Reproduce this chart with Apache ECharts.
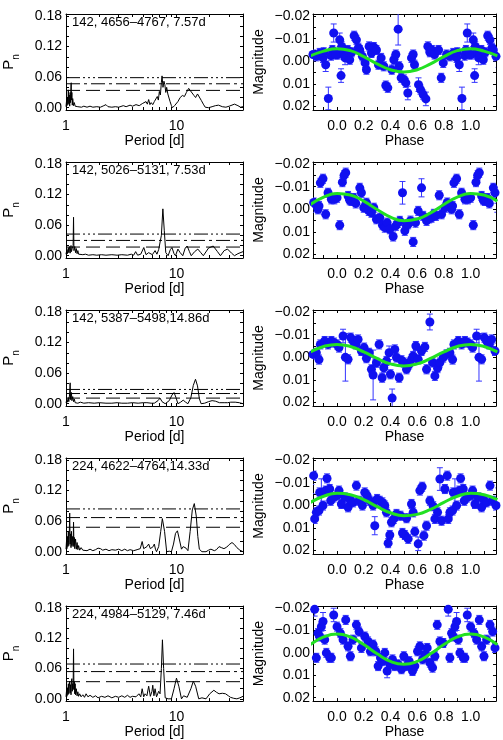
<!DOCTYPE html>
<html lang="en">
<head>
<meta charset="utf-8">
<title>Periodograms and phased light curves</title>
<script src="https://cdn.jsdelivr.net/npm/echarts@6/dist/echarts.min.js"></script>
<style>
  html, body { margin: 0; padding: 0; background: #fff; }
  #main { width: 503px; height: 740px; }
</style>
</head>
<body>
<div id="main"></div>
<script>
// ---- data ----
var panelLabels = ['142, 4656\u20134767, 7.57d', '142, 5026\u20135131, 7.53d', '142, 5387\u20135498,14.86d',
                   '224, 4622\u20134764,14.33d', '224, 4984\u20135129, 7.46d'];

// false-alarm levels (dash-dot-dot-dot, dash-dot, dash)
var levels = [
  [0.059, 0.047, 0.034],
  [0.0425, 0.030, 0.017],
  [0.028, 0.020, 0.011],
  [0.084, 0.067, 0.048],
  [0.069, 0.054, 0.034]
];

// periodograms: [period (d), power]
var power1 = [[1.0,0.002],[1.01,0.012],[1.02,0.004],[1.03,0.02],[1.04,0.006],[1.05,0.035],[1.06,0.008],[1.07,0.025],[1.08,0.003],
  [1.09,0.03],[1.10,0.01],[1.11,0.045],[1.115,0.049],[1.12,0.015],[1.13,0.03],[1.14,0.005],[1.15,0.018],[1.17,0.004],[1.19,0.01],
  [1.21,0.003],[1.24,0.006],[1.28,0.002],[1.32,0.004],[1.38,0.001],[1.45,0.003],[1.55,0.001],[1.65,0.003],[1.75,0.001],[1.9,0.002],
  [2.05,0.001],[2.2,0.004],[2.3,0.006],[2.4,0.002],[2.6,0.001],[2.8,0.002],[3.0,0.001],[3.3,0.004],[3.5,0.002],[3.8,0.005],[4.0,0.003],
  [4.3,0.006],[4.6,0.004],[4.9,0.008],[5.1,0.005],[5.3,0.012],[5.45,0.007],[5.6,0.016],[5.75,0.006],[5.9,0.01],[6.1,0.006],[6.3,0.012],
  [6.5,0.01],[6.7,0.022],[6.85,0.015],[7.0,0.032],[7.15,0.025],[7.3,0.05],[7.4,0.0625],[7.55,0.04],[7.7,0.052],[7.85,0.045],[8.0,0.03],
  [8.15,0.04],[8.35,0.027],[8.55,0.03],[8.75,0.012],[9.0,0.004],[9.2,0.0],[9.6,0.004],[10.3,0.012],[10.8,0.02],[11.3,0.024],[11.8,0.022],
  [12.3,0.03],[12.9,0.038],[13.4,0.033],[13.9,0.03],[14.4,0.024],[14.9,0.02],[15.5,0.027],[16.1,0.024],[16.8,0.014],[17.5,0.007],
  [18.2,0.001],[19.5,0.0],[21,0.002],[22.5,0.004],[24,0.005],[26,0.002],[28,0.001],[30,0.003],[33.5,0.007],[36,0.004],[38,0.001],[40,0.002]];

var power2 = [[1.0,0.003],[1.02,0.012],[1.03,0.004],[1.05,0.016],[1.06,0.006],[1.08,0.018],[1.09,0.005],[1.11,0.02],[1.12,0.008],
  [1.14,0.015],[1.16,0.02],[1.17,0.0755],[1.18,0.01],[1.2,0.018],[1.22,0.006],[1.24,0.014],[1.26,0.004],[1.28,0.01],[1.3,0.003],
  [1.35,0.005],[1.42,0.002],[1.5,0.003],[1.6,0.001],[1.75,0.002],[1.9,0.001],[2.1,0.002],[2.3,0.001],[2.6,0.002],[2.9,0.001],
  [3.2,0.002],[3.6,0.001],[3.9,0.003],[4.1,0.001],[4.27,0.008],[4.45,0.001],[4.75,0.003],[5.06,0.016],[5.3,0.002],[5.6,0.006],
  [5.8,0.008],[6.05,0.002],[6.4,0.01],[6.65,0.003],[6.9,0.012],[7.1,0.01],[7.3,0.04],[7.53,0.092],[7.75,0.05],[8.0,0.006],[8.4,0.0],
  [8.8,0.012],[9.1,0.016],[9.5,0.004],[9.8,0.0],[10.3,0.013],[10.8,0.006],[11.4,0.0],[12.0,0.015],[12.5,0.019],[13.1,0.008],[13.6,0.0],
  [14.6,0.008],[15.6,0.013],[16.6,0.006],[17.5,0.0],[19.5,0.015],[21.5,0.019],[23.5,0.008],[25,0.0],[27,0.01],[29,0.013],[31.5,0.005],
  [33.5,0.0],[36,0.004],[40,0.008]];

var power3 = [[1.0,0.002],[1.02,0.008],[1.03,0.003],[1.05,0.012],[1.06,0.004],[1.08,0.02],[1.09,0.041],[1.1,0.008],[1.11,0.016],
  [1.12,0.022],[1.13,0.006],[1.15,0.014],[1.17,0.004],[1.19,0.009],[1.21,0.002],[1.24,0.005],[1.28,0.001],[1.35,0.003],[1.45,0.001],
  [1.6,0.002],[1.8,0.001],[2.0,0.002],[2.3,0.001],[2.6,0.001],[2.9,0.002],[3.2,0.001],[3.6,0.001],[4.0,0.002],[4.5,0.001],[5.0,0.002],
  [5.2,0.004],[5.4,0.002],[5.6,0.005],[5.9,0.001],[6.3,0.001],[6.8,0.006],[7.1,0.011],[7.4,0.004],[7.9,0.0],[8.6,0.006],[9.1,0.017],
  [9.5,0.022],[9.9,0.012],[10.3,0.0],[10.9,0.003],[11.5,0.007],[12.1,0.003],[12.7,0.0],[13.5,0.012],[14.2,0.036],[14.86,0.048],
  [15.5,0.035],[16.1,0.01],[16.7,0.0],[18,0.001],[19.5,0.004],[21,0.006],[22.5,0.005],[24.5,0.002],[27,0.002],[29,0.002],[31,0.003],
  [34,0.003],[37,0.002],[40,0.0]];

var power4 = [[1.0,0.005],[1.01,0.02],[1.02,0.006],[1.03,0.03],[1.04,0.01],[1.05,0.04],[1.06,0.012],[1.07,0.03],[1.08,0.076],
  [1.09,0.015],[1.1,0.035],[1.11,0.008],[1.12,0.04],[1.13,0.012],[1.15,0.03],[1.16,0.01],[1.17,0.058],[1.18,0.012],[1.19,0.028],
  [1.2,0.006],[1.22,0.025],[1.24,0.005],[1.26,0.018],[1.28,0.004],[1.3,0.012],[1.33,0.003],[1.37,0.008],[1.42,0.003],[1.48,0.006],
  [1.55,0.002],[1.65,0.005],[1.75,0.002],[1.85,0.004],[1.95,0.007],[2.05,0.006],[2.15,0.003],[2.3,0.005],[2.45,0.002],[2.6,0.004],
  [2.8,0.003],[3.0,0.005],[3.2,0.002],[3.4,0.005],[3.6,0.002],[3.8,0.004],[4.1,0.002],[4.4,0.004],[4.7,0.006],[4.89,0.02],[5.05,0.006],
  [5.2,0.004],[5.4,0.01],[5.6,0.015],[5.8,0.006],[6.0,0.003],[6.15,0.01],[6.3,0.015],[6.45,0.005],[6.6,0.0],[6.9,0.01],[7.2,0.04],
  [7.45,0.065],[7.6,0.068],[7.8,0.04],[8.15,0.0],[8.6,0.001],[9.0,0.0],[9.4,0.015],[9.8,0.036],[10.2,0.041],[10.6,0.025],[11.1,0.005],
  [11.5,0.01],[11.8,0.012],[12.2,0.007],[12.7,0.002],[13.3,0.04],[13.9,0.082],[14.5,0.0945],[15.1,0.07],[15.6,0.03],[16.1,0.005],
  [17,0.0],[18.5,0.0],[19.5,0.003],[20.5,0.005],[22,0.002],[23,0.004],[24.3,0.01],[25.5,0.008],[26.9,0.006],[28.5,0.009],[30,0.014],
  [31.8,0.018],[33.5,0.014],[35.2,0.008],[37.5,0.003],[40,0.0]];

var power5 = [[1.0,0.004],[1.01,0.015],[1.02,0.005],[1.03,0.022],[1.04,0.008],[1.05,0.03],[1.06,0.01],[1.07,0.025],[1.08,0.035],
  [1.09,0.012],[1.1,0.028],[1.11,0.008],[1.12,0.035],[1.13,0.04],[1.14,0.015],[1.15,0.03],[1.16,0.02],[1.17,0.099],[1.18,0.018],
  [1.19,0.034],[1.2,0.01],[1.21,0.03],[1.22,0.008],[1.24,0.02],[1.26,0.006],[1.28,0.014],[1.3,0.005],[1.33,0.01],[1.37,0.004],
  [1.42,0.008],[1.47,0.003],[1.52,0.01],[1.58,0.004],[1.65,0.007],[1.75,0.003],[1.85,0.006],[1.95,0.002],[2.1,0.005],[2.25,0.003],
  [2.4,0.006],[2.6,0.002],[2.8,0.005],[3.0,0.003],[3.2,0.006],[3.4,0.003],[3.6,0.007],[3.8,0.003],[4.0,0.005],[4.3,0.004],[4.57,0.01],
  [4.75,0.004],[4.89,0.02],[5.05,0.004],[5.2,0.01],[5.4,0.006],[5.6,0.025],[5.8,0.005],[6.0,0.015],[6.1,0.027],[6.25,0.006],[6.4,0.02],
  [6.6,0.004],[6.9,0.015],[7.1,0.01],[7.3,0.06],[7.46,0.117],[7.65,0.06],[7.9,0.002],[8.4,0.0],[9.0,0.0],[9.5,0.02],[10.0,0.041],
  [10.5,0.025],[11.1,0.0],[11.6,0.006],[12.0,0.008],[12.5,0.003],[12.9,0.0],[13.5,0.02],[14.2,0.035],[14.9,0.025],[15.9,0.0],[17,0.002],
  [18.5,0.0],[20,0.01],[21.8,0.017],[23,0.013],[24.3,0.01],[26,0.011],[27.8,0.01],[29.5,0.006],[30.8,0.003],[33,0.001],[35.2,0.0],
  [37.5,0.002],[40,0.005]];

// phased photometry: [phase, magnitude, error], phase 0..1
var phase1 = [[0.005,-0.003,0.002],[0.02,-0.0095,0.003],[0.03,0.0063,0.003],[0.035,-0.0066,0.002],[0.05,-0.004,0.002],[0.06,-0.0015,0.003],
  [0.07,-0.003,0.002],[0.08,-0.005,0.002],[0.095,-0.0007,0.002],[0.11,-0.004,0.002],[0.128,-0.0113,0.002],[0.145,-0.0095,0.002],
  [0.16,-0.006,0.002],[0.17,-0.005,0.002],[0.19,-0.0022,0.002],[0.21,0.0007,0.002],[0.22,0.0037,0.002],[0.24,-0.0066,0.002],
  [0.2575,-0.0037,0.002],[0.275,-0.0063,0.002],[0.295,-0.005,0.002],[0.31,0.0015,0.002],[0.33,-0.0015,0.002],[0.35,0.0022,0.002],
  [0.365,0.0107,0.002],[0.38,0.0117,0.002],[0.41,0.0037,0.002],[0.425,-0.0007,0.002],[0.44,-0.003,0.002],[0.4575,-0.0142,0.007],
  [0.465,0.0022,0.002],[0.48,0.0073,0.002],[0.5,0.008,0.002],[0.515,0.0095,0.002],[0.53,0.014,0.003],[0.5575,-0.0015,0.002],
  [0.57,-0.003,0.002],[0.58,0.0015,0.002],[0.61,0.0103,0.003],[0.625,0.0125,0.002],[0.645,0.0147,0.002],[0.665,0.0166,0.003],
  [0.68,-0.0066,0.002],[0.695,-0.004,0.002],[0.71,-0.005,0.002],[0.73,-0.003,0.002],[0.76,-0.005,0.002],[0.78,0.0073,0.002],
  [0.795,0.0007,0.002],[0.82,-0.003,0.002],[0.845,-0.0022,0.002],[0.87,-0.0037,0.002],[0.895,-0.0015,0.002],[0.9,-0.004,0.002],
  [0.915,0.0015,0.003],[0.935,0.0164,0.005],[0.955,-0.0025,0.002],[0.965,-0.005,0.002],[0.975,-0.0125,0.004],[0.99,-0.003,0.002]];

var phase2 = [[0.0,-0.0051,0.002],[0.02,0.007,0.002],[0.04,-0.012,0.002],[0.0525,-0.015,0.002],[0.065,-0.0162,0.002],
  [0.0825,-0.0059,0.002],[0.095,-0.004,0.002],[0.1075,-0.0037,0.002],[0.125,-0.005,0.002],[0.14,-0.0026,0.002],[0.17,-0.0095,0.002],
  [0.1825,-0.0073,0.002],[0.2,-0.0007,0.002],[0.22,-0.0029,0.002],[0.2375,0.0007,0.002],[0.2575,0.0015,0.002],[0.275,-0.0007,0.002],
  [0.295,0.0044,0.002],[0.32,0.0037,0.002],[0.34,0.007,0.002],[0.3575,0.0081,0.002],[0.375,0.0059,0.002],[0.395,0.0088,0.002],
  [0.42,0.012,0.002],[0.44,0.0073,0.002],[0.455,0.006,0.002],[0.47,0.0051,0.002],[0.49,-0.0073,0.005],[0.5075,0.0095,0.002],
  [0.52,0.007,0.002],[0.5325,0.0066,0.002],[0.55,0.005,0.002],[0.57,0.0144,0.002],[0.5875,0.0059,0.002],[0.6075,0.0007,0.002],
  [0.6325,-0.0095,0.004],[0.645,0.0029,0.002],[0.67,0.0051,0.002],[0.69,0.004,0.002],[0.7075,0.0037,0.002],[0.725,0.002,0.002],
  [0.74,0.0029,0.002],[0.765,-0.0062,0.002],[0.7825,0.0022,0.002],[0.8075,-0.0007,0.002],[0.825,-0.003,0.002],[0.84,-0.0022,0.002],
  [0.8575,0.0,0.002],[0.865,-0.0015,0.002],[0.875,-0.0117,0.002],[0.895,-0.0135,0.002],[0.915,0.0022,0.002],[0.9325,-0.0073,0.002],
  [0.9575,-0.0044,0.002],[0.98,-0.0044,0.002]];

var phase3 = [[0.0,-0.0057,0.002],[0.015,-0.0043,0.002],[0.045,-0.0094,0.003],[0.0625,0.0,0.0105],[0.0825,0.0009,0.002],
  [0.1025,-0.0087,0.002],[0.12,-0.0072,0.002],[0.14,-0.0057,0.002],[0.1575,-0.0079,0.002],[0.1825,-0.0028,0.002],[0.2025,-0.0043,0.002],
  [0.22,0.0004,0.002],[0.24,-0.002,0.002],[0.2575,0.0053,0.002],[0.27,0.0078,0.011],[0.295,0.0024,0.002],[0.315,-0.0057,0.002],
  [0.3375,0.009,0.002],[0.35,0.0046,0.002],[0.37,0.0016,0.002],[0.39,-0.002,0.003],[0.4,0.0075,0.002],[0.4125,0.018,0.004],
  [0.4325,-0.0035,0.002],[0.445,0.0001,0.002],[0.465,0.009,0.002],[0.4825,0.0013,0.002],[0.5,0.0023,0.002],[0.52,0.0053,0.002],
  [0.54,0.0031,0.002],[0.5575,0.0009,0.002],[0.57,-0.0006,0.002],[0.59,-0.005,0.002],[0.6075,0.0009,0.002],[0.6325,-0.0028,0.002],
  [0.6575,-0.0046,0.002],[0.67,0.0053,0.002],[0.695,-0.0156,0.0035],[0.715,0.0023,0.002],[0.7325,0.0082,0.002],[0.7525,0.0048,0.002],
  [0.77,0.0023,0.002],[0.795,0.0001,0.002],[0.82,-0.0013,0.002],[0.845,-0.002,0.002],[0.865,0.001,0.002],[0.875,-0.0057,0.002],
  [0.9075,-0.0072,0.002],[0.9325,-0.0057,0.002],[0.9575,-0.0072,0.002],[0.9775,-0.0065,0.002]];

var phase4 = [[0.0,-0.0043,0.002],[0.015,-0.0065,0.002],[0.0325,-0.0006,0.002],[0.0575,-0.0035,0.002],[0.0825,0.0009,0.002],
  [0.095,-0.0028,0.002],[0.12,-0.0013,0.002],[0.145,-0.0087,0.002],[0.165,-0.002,0.002],[0.19,0.0001,0.002],[0.2075,-0.0057,0.002],
  [0.225,-0.0043,0.002],[0.245,-0.002,0.002],[0.27,0.0001,0.002],[0.2825,0.009,0.004],[0.3,-0.0028,0.002],[0.32,-0.002,0.002],
  [0.34,-0.0013,0.002],[0.3575,0.0001,0.002],[0.37,0.0031,0.002],[0.3825,0.0167,0.002],[0.395,0.0131,0.002],[0.4075,0.0075,0.002],
  [0.425,0.006,0.002],[0.445,0.0038,0.002],[0.475,0.0046,0.002],[0.49,0.0122,0.002],[0.5075,0.0131,0.002],[0.52,0.0057,0.002],
  [0.5325,0.0148,0.002],[0.5575,-0.0006,0.002],[0.57,0.0031,0.002],[0.5825,0.0116,0.002],[0.6075,0.017,0.003],[0.62,-0.0065,0.002],
  [0.6375,-0.0082,0.002],[0.65,0.0134,0.002],[0.67,0.009,0.002],[0.695,-0.002,0.002],[0.72,0.0004,0.002],[0.7325,0.006,0.002],
  [0.7525,0.0031,0.002],[0.77,-0.0116,0.005],[0.7825,0.0068,0.002],[0.8075,-0.0072,0.002],[0.825,-0.0131,0.002],[0.8325,0.006,0.002],
  [0.845,0.0031,0.002],[0.865,0.0023,0.002],[0.87,-0.0057,0.002],[0.8825,-0.0057,0.006],[0.895,0.0001,0.002],[0.915,-0.0065,0.002],
  [0.925,-0.0119,0.002],[0.945,-0.0072,0.002],[0.9525,-0.002,0.002],[0.975,-0.0035,0.002]];

var phase5 = [[0.0,-0.0117,0.002],[0.025,-0.0088,0.002],[0.045,-0.0059,0.002],[0.065,-0.0147,0.002],[0.0825,-0.0029,0.002],
  [0.1,0.0015,0.002],[0.12,-0.0059,0.002],[0.145,-0.0125,0.002],[0.165,-0.0095,0.002],[0.1825,-0.0022,0.002],[0.2075,-0.0073,0.002],
  [0.2325,-0.0051,0.002],[0.25,-0.0007,0.002],[0.27,-0.0037,0.002],[0.29,-0.0007,0.002],[0.3075,0.0059,0.002],[0.325,0.0022,0.002],
  [0.34,0.0037,0.002],[0.3575,0.0,0.002],[0.375,0.0081,0.003],[0.395,0.0051,0.002],[0.415,0.0029,0.002],[0.4325,0.0059,0.002],
  [0.4575,0.0051,0.002],[0.4825,0.0073,0.002],[0.5,0.0015,0.002],[0.52,0.0059,0.002],[0.54,0.0037,0.002],[0.565,0.0081,0.002],
  [0.5825,0.0059,0.002],[0.6025,-0.0007,0.002],[0.62,-0.0029,0.002],[0.64,0.0029,0.002],[0.6575,0.0007,0.002],[0.675,-0.0022,0.002],
  [0.695,0.0044,0.002],[0.715,0.0066,0.002],[0.7325,0.0015,0.002],[0.75,-0.0125,0.002],[0.77,-0.0051,0.002],[0.795,-0.0044,0.002],
  [0.8325,-0.0194,0.003],[0.845,0.0022,0.002],[0.8575,-0.0088,0.002],[0.87,-0.0073,0.002],[0.8825,-0.0117,0.002],[0.895,-0.014,0.004],
  [0.9075,-0.0059,0.002],[0.92,0.0,0.002],[0.945,0.0022,0.002],[0.9575,0.0022,0.002],[0.975,-0.0169,0.003]];

// fitted curves, read every 0.1 in phase
var fitPhase = [-0.2, -0.1, 0.0, 0.1, 0.2, 0.3, 0.4, 0.5, 0.6, 0.7, 0.8, 0.9, 1.0, 1.1, 1.2];
var fit1 = [-0.0024,-0.0045,-0.0056,-0.0047,-0.0021,0.0011,0.0037,0.0047,0.0037,0.0011,-0.0021,-0.0047,-0.0056,-0.0045,-0.0024];
var fit2 = [-0.0021,-0.0054,-0.0070,-0.0063,-0.0036,0.0001,0.0034,0.0050,0.0043,0.0016,-0.0021,-0.0054,-0.0070,-0.0063,-0.0036];
var fit3 = [-0.0024,-0.0048,-0.0057,-0.0048,-0.0024,0.0005,0.0029,0.0038,0.0029,0.0005,-0.0024,-0.0048,-0.0057,-0.0048,-0.0024];
var fit4 = [-0.0013,-0.0040,-0.0053,-0.0047,-0.0025,0.0006,0.0033,0.0046,0.0040,0.0018,-0.0013,-0.0040,-0.0053,-0.0047,-0.0025];
var fit5 = [-0.0037,-0.0071,-0.0084,-0.0071,-0.0037,0.0004,0.0038,0.0051,0.0038,0.0004,-0.0037,-0.0071,-0.0084,-0.0071,-0.0037];

var powerTicks = [0, 0.06, 0.12, 0.18];
var periodTicks = [1, 10];
var magTicks = [-0.02, -0.01, 0, 0.01, 0.02];
var phaseTicks = [0, 0.2, 0.4, 0.6, 0.8, 1.0];

var powers = [power1, power2, power3, power4, power5];
var phases = [phase1, phase2, phase3, phase4, phase5];
var fits = [fit1, fit2, fit3, fit4, fit5];

// ---- layout ----
var FONT = 'Liberation Sans';
var ROW_H = 148, TOP0 = 14, BOX_H = 96;
var PH_MIN = -0.18, PH_MAX = 1.19;
var dotColor = '#1010f0', barColor = '#3535ff', fitColor = '#22e022';

var chart = echarts.init(document.getElementById('main'));

function fmtMag(v) {
  if (Math.abs(v) < 1e-9) return '0.00';
  return v < 0 ? '\u2212' + (-v).toFixed(2) : v.toFixed(2);
}

// repeat points one cycle either side so the window -0.18..1.19 is filled
function wrapPhase(pts) {
  var out = [];
  pts.forEach(function (p) {
    [-1, 0, 1].forEach(function (k) {
      var ph = p[0] + k;
      if (ph >= PH_MIN - 0.02 && ph <= PH_MAX + 0.02) out.push([ph, p[1], p[2]]);
    });
  });
  return out;
}

function errorBars(params, api) {
  var x = api.value(0), y = api.value(1), e = api.value(2);
  var a = api.coord([x, y - e]), b = api.coord([x, y + e]);
  var w = 3;
  var st = { stroke: barColor, lineWidth: 1 };
  return {
    type: 'group',
    children: [
      { type: 'line', shape: { x1: a[0], y1: a[1], x2: b[0], y2: b[1] }, style: st },
      { type: 'line', shape: { x1: a[0] - w, y1: a[1], x2: a[0] + w, y2: a[1] }, style: st },
      { type: 'line', shape: { x1: b[0] - w, y1: b[1], x2: b[0] + w, y2: b[1] }, style: st }
    ]
  };
}

function tick(values) {
  return { show: true, inside: true, length: 3, customValues: values, lineStyle: { color: '#000', width: 1 } };
}
function frame() {
  return { show: true, onZero: false, lineStyle: { color: '#000', width: 1 } };
}
function label(values, margin, fmt) {
  return { fontFamily: FONT, fontSize: 14, color: '#000', customValues: values, margin: margin, formatter: fmt };
}

var periodMinor = [2, 3, 4, 5, 6, 7, 8, 9, 10, 20, 30];
var phaseMinor = [-0.1, 0, 0.1, 0.2, 0.3, 0.4, 0.5, 0.6, 0.7, 0.8, 0.9, 1.0, 1.1];
var powerMinor = [0, 0.02, 0.04, 0.06, 0.08, 0.10, 0.12, 0.14, 0.16, 0.18];
var magMinor = [-0.02, -0.015, -0.01, -0.005, 0, 0.005, 0.01, 0.015, 0.02];
var dashes = [[14, 3, 2, 3, 2, 3, 2, 3], [14, 4, 3, 4], [14, 6]];

var grids = [], xAxes = [], yAxes = [], series = [], titles = [];

for (var r = 0; r < 5; r++) {
  var rowTop = TOP0 + r * ROW_H;
  grids.push({ left: 63, top: rowTop, width: 180, height: BOX_H });
  grids.push({ left: 313, top: rowTop, width: 183, height: BOX_H });
  var gL = 2 * r, gR = 2 * r + 1;

  // left panel: periodogram
  xAxes.push({
    type: 'log', gridIndex: gL, position: 'bottom', min: 1, max: 40,
    axisLine: frame(), axisTick: tick(periodMinor),
    axisLabel: label(periodTicks, 9, function (v) { return String(Math.round(v)); }),
    splitLine: { show: false },
    name: 'Period [d]', nameLocation: 'middle', nameGap: 20,
    nameTextStyle: { fontFamily: FONT, fontSize: 14, color: '#000' }
  });
  xAxes.push({
    type: 'log', gridIndex: gL, position: 'top', min: 1, max: 40,
    axisLine: frame(), axisTick: tick(periodMinor), axisLabel: { show: false }, splitLine: { show: false }
  });
  // right panel: phase
  xAxes.push({
    type: 'value', gridIndex: gR, position: 'bottom', min: PH_MIN, max: PH_MAX,
    axisLine: frame(), axisTick: tick(phaseMinor),
    axisLabel: label(phaseTicks, 9, function (v) { return v.toFixed(1); }),
    splitLine: { show: false },
    name: 'Phase', nameLocation: 'middle', nameGap: 20,
    nameTextStyle: { fontFamily: FONT, fontSize: 14, color: '#000' }
  });
  xAxes.push({
    type: 'value', gridIndex: gR, position: 'top', min: PH_MIN, max: PH_MAX,
    axisLine: frame(), axisTick: tick(phaseMinor), axisLabel: { show: false }, splitLine: { show: false }
  });

  yAxes.push({
    type: 'value', gridIndex: gL, position: 'left', min: -0.0045, max: 0.184,
    axisLine: frame(), axisTick: tick(powerMinor),
    axisLabel: label(powerTicks, 4, function (v) { return v.toFixed(2); }),
    splitLine: { show: false },
    name: '{a|P}{b|n}', nameLocation: 'middle', nameGap: 45, nameRotate: 90,
    nameTextStyle: {
      rich: {
        a: { fontFamily: FONT, fontSize: 15, color: '#000', lineHeight: 20, verticalAlign: 'top' },
        b: { fontFamily: FONT, fontSize: 10, color: '#000', verticalAlign: 'bottom' }
      }
    }
  });
  yAxes.push({
    type: 'value', gridIndex: gL, position: 'right', min: -0.0045, max: 0.184,
    axisLine: frame(), axisTick: tick(powerMinor), axisLabel: { show: false }, splitLine: { show: false }
  });
  yAxes.push({
    type: 'value', gridIndex: gR, position: 'left', min: -0.0209, max: 0.0215, inverse: true,
    axisLine: frame(), axisTick: tick(magMinor),
    axisLabel: label(magTicks, 3, fmtMag),
    splitLine: { show: false },
    name: 'Magnitude', nameLocation: 'middle', nameGap: 47, nameRotate: 90,
    nameTextStyle: { fontFamily: FONT, fontSize: 14, color: '#000' }
  });
  yAxes.push({
    type: 'value', gridIndex: gR, position: 'right', min: -0.0209, max: 0.0215, inverse: true,
    axisLine: frame(), axisTick: tick(magMinor), axisLabel: { show: false }, splitLine: { show: false }
  });

  var xL = 4 * r, xR = 4 * r + 2;

  // periodogram
  series.push({
    type: 'line', xAxisIndex: xL, yAxisIndex: xL, data: powers[r], symbol: 'none',
    lineStyle: { color: '#000', width: 1 }, silent: true
  });
  // false-alarm levels
  levels[r].forEach(function (v, k) {
    series.push({
      type: 'line', xAxisIndex: xL, yAxisIndex: xL, data: [[1, v], [40, v]], symbol: 'none',
      lineStyle: { color: '#000', width: 1, type: dashes[k] }, silent: true
    });
  });

  // light curve
  var pts = wrapPhase(phases[r]);
  series.push({
    type: 'custom', xAxisIndex: xR, yAxisIndex: xR, data: pts, renderItem: errorBars,
    clip: true, silent: true, z: 2
  });
  series.push({
    type: 'scatter', xAxisIndex: xR, yAxisIndex: xR, data: pts.map(function (p) { return [p[0], p[1]]; }),
    symbol: 'circle', symbolSize: 9, itemStyle: { color: dotColor, opacity: 1 }, clip: true, silent: true, z: 3
  });
  series.push({
    type: 'line', xAxisIndex: xR, yAxisIndex: xR,
    data: fitPhase.map(function (p, i) { return [p, fits[r][i]]; }),
    symbol: 'none', smooth: true, lineStyle: { color: fitColor, width: 3 }, clip: true, silent: true, z: 4
  });

  titles.push({
    text: panelLabels[r], left: 72, top: rowTop + 2, padding: 0,
    textStyle: { fontFamily: FONT, fontSize: 13, fontWeight: 'normal', color: '#000' }
  });
}

chart.setOption({
  backgroundColor: '#fff',
  animation: false,
  title: titles,
  grid: grids,
  xAxis: xAxes,
  yAxis: yAxes,
  series: series
});
window.onresize = chart.resize;
</script>
</body>
</html>
